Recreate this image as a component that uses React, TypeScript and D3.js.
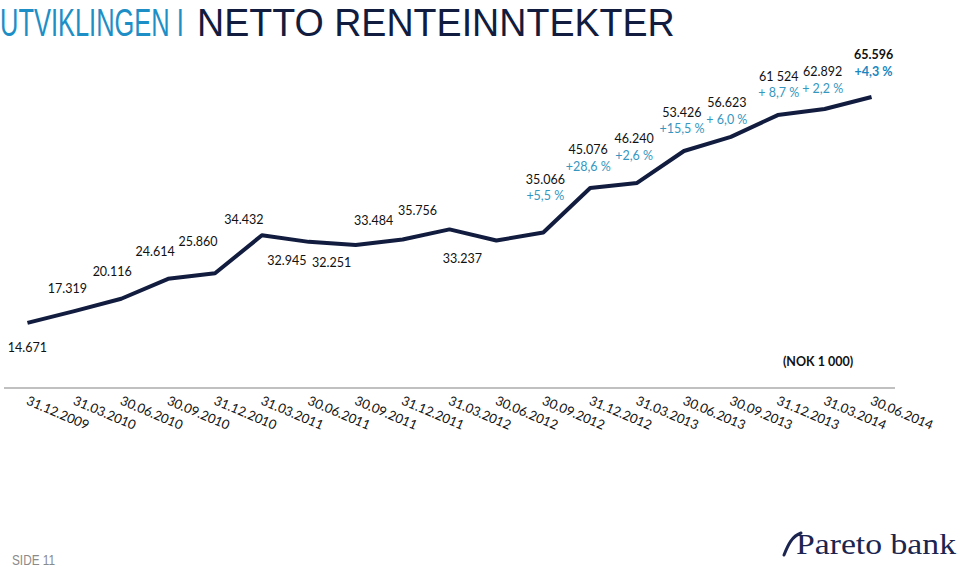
import React from 'react';
import * as d3 from 'd3';

// quarter ends
const dates = [
  '31.12.2009', '31.03.2010', '30.06.2010', '30.09.2010', '31.12.2010',
  '31.03.2011', '30.06.2011', '30.09.2011', '31.12.2011', '31.03.2012',
  '30.06.2012', '30.09.2012', '31.12.2012', '31.03.2013', '30.06.2013',
  '30.09.2013', '31.12.2013', '31.03.2014', '30.06.2014',
];

// netto renteinntekter, NOK 1 000
const values = [
  14671, 17319, 20116, 24614, 25860, 34432, 32945, 32251, 33484, 35756,
  33237, 35066, 45076, 46240, 53426, 56623, 61524, 62892, 65596,
];

const valueText = [
  '14.671', '17.319', '20.116', '24.614', '25.860', '34.432', '32.945', '32.251', '33.484', '35.756',
  '33.237', '35.066', '45.076', '46.240', '53.426', '56.623', '61 524', '62.892', '65.596',
];

// growth labels for the last eight quarters
const growthText = ['+5,5 %', '+28,6 %', '+2,6 %', '+15,5 %', '+ 6,0 %', '+ 8,7 %', '+ 2,2 %', '+4,3 %'];
const growthStart = 11;

// label placement relative to the point: [dx, dy value, dy growth]
const labelOffset: number[][] = [
  [0, 25], [-7, -23], [-9, -27], [-13, -27], [-17, -32], [-18, -16], [-22, 19], [-24, 18],
  [-29, -19], [-32, -19], [-34, 18], [2, -53, -37], [-2, -38, -21], [-3, -44, -27],
  [-2, -38, -22], [-4, -34, -17], [1, -38, -22], [-2, -37, -20], [2, -42, -25],
];

const navy = '#111c3f';
const blue = '#1e8fc6';
const teal = '#3597c0';
const labelFont = 'Lato, "Open Sans", sans-serif';
const narrow = '"Liberation Sans Narrow", "Liberation Sans", sans-serif';

export default function App() {
  const width = 960;
  const height = 567;

  const x = d3.scaleBand<string>().domain(dates).range([4, 895]);
  const y = d3.scaleLinear().domain([0, 70000]).range([388, 77.5]);
  const cx = (d: string) => (x(d) ?? 0) + x.bandwidth() / 2;

  const line = d3.line<number>()
    .x((_, i) => cx(dates[i]))
    .y(v => y(v));

  return (
    <svg width={width} height={height} style={{ position: 'absolute', left: 0, top: 0, background: '#fff' }}>
      <text transform="translate(0,36) scale(0.67,1)" fontFamily={narrow} fontSize={38} fill={blue}>
        UTVIKLINGEN I
      </text>
      <text transform="translate(197,36) scale(0.99,1)" fontFamily={narrow} fontSize={38} fill={navy}>
        NETTO RENTEINNTEKTER
      </text>

      <line x1={4} x2={895} y1={y(0)} y2={y(0)} stroke="#c0c0c0" strokeWidth={2} />

      {dates.map(d => (
        <text key={d} transform={`translate(${cx(d) - 2},${y(0) + 16}) rotate(23)`}
          fontFamily={labelFont} fontSize={13} fill="#111">{d}</text>
      ))}

      <path d={line(values) ?? ''} fill="none" stroke={navy} strokeWidth={4} strokeLinejoin="round" />

      {values.map((v, i) => {
        const px = cx(dates[i]);
        const py = y(v);
        const off = labelOffset[i];
        const last = i === values.length - 1;
        return (
          <g key={i} fontFamily={labelFont} fontSize={12.5} textAnchor="middle">
            <text x={px + off[0]} y={py + off[1]} dy="0.35em" fill="#111" fontWeight={last ? 700 : 400}>
              {valueText[i]}
            </text>
            {i >= growthStart && (
              <text x={px + off[0]} y={py + off[2]} dy="0.35em" fill={last ? '#1a86c0' : teal}
                fontWeight={last ? 700 : 400}>
                {growthText[i - growthStart]}
              </text>
            )}
          </g>
        );
      })}

      <text x={818} y={362} dy="0.35em" textAnchor="middle" fontFamily={labelFont} fontSize={12.5}
        fontWeight={700} fill="#111">(NOK 1 000)</text>

      <text x={12} y={565} fontFamily={narrow} fontSize={14} fill="#8a8a8a"
        textLength={43} lengthAdjust="spacingAndGlyphs">SIDE 11</text>

      <path d="M784,555 C788,545 792,536 801,533" fill="none" stroke="#1b2550" strokeWidth={3} strokeLinecap="round" />
      <text x={796} y={554} fontFamily='"Liberation Serif", serif' fontSize={30} fill="#1b2550"
        textLength={160} lengthAdjust="spacingAndGlyphs">Pareto bank</text>
    </svg>
  );
}
